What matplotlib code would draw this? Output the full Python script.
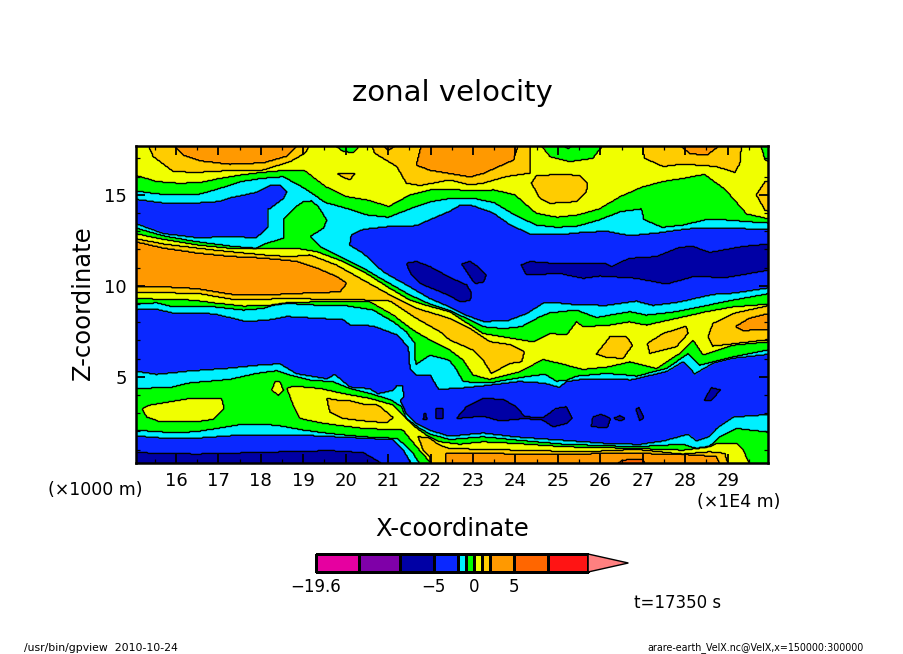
import numpy as np
import matplotlib
matplotlib.use("Agg")
import matplotlib.pyplot as plt
from matplotlib.colors import ListedColormap, BoundaryNorm
from matplotlib.path import Path

W, H = 904, 654

# --- colour classes -------------------------------------------------------
levels = [-19.6, -14.2, -9.2, -5, -2, -1, 0, 1, 2, 5, 9.2, 14.2]
top_level = 19.2
colors = ["#E600A0", "#7F00A8", "#0000A5", "#0A28FF", "#00F0FF", "#00FF00",
          "#F0FF00", "#FFCC00", "#FF9900", "#FF6600", "#FF1414"]
arrow_color = "#FF8080"
NAVY, BLUE, CYAN, GREEN, YELLOW, GOLD, ORANGE, DKORANGE = -7, -3.5, -1.5, -0.5, 0.5, 1.5, 3.5, 7

# --- contour outlines (x: 1E4 m, z: 1000 m) --------------------------------
col_x = [15 + 0.5 * i for i in range(31)]
upper_yellow_green_z = [16.12, 15.75, 15.66, 15.69, 15.93, 16.12, 16.26, 16.36, 16.36, 15.47, 14.92,
                        14.73, 14.37, 15.01, 15.29, 15.32, 15.23, 15.29, 15.01, 14.0, 13.78, 13.91,
                        14.24, 14.92, 15.43, 15.75, 15.93, 16.15, 15.29, 13.96, 13.67]
upper_green_cyan_x = col_x[:25] + [27.06] + col_x[25:]
upper_green_cyan_z = [15.25, 15.07, 15.01, 15.05, 15.38, 15.75, 15.93, 16.02, 15.38, 14.59, 14.27,
                      13.9, 13.78, 14.24, 14.64, 14.83, 14.83, 14.59, 13.9, 13.35, 13.22, 13.3,
                      13.63, 14.09, 14.24, 13.65, 13.22, 13.35, 13.63, 13.63, 13.54, 13.45]

dome1_gold_x = [15.29, 15.41, 15.89, 16.44, 17.23, 18.02, 18.66, 19.01, 19.13]
dome1_gold_z = [17.68, 17.13, 16.3, 16.26, 16.36, 16.39, 16.85, 17.31, 17.68]
dome1_orange_x = [15.89, 16.12, 16.52, 17.23, 18.02, 18.58, 18.85]
dome1_orange_z = [17.68, 17.22, 16.91, 16.72, 16.8, 17.17, 17.68]
dome2_green_x = [19.72, 19.92, 20.16, 20.32]
dome2_green_z = [17.68, 17.41, 17.35, 17.68]
spot_gold_x = [19.76, 20.2, 20.08, 19.92]
spot_gold_z = [16.21, 16.21, 15.84, 15.99]
dome3_gold_x = [20.59, 20.67, 21.19, 21.42, 21.74, 22.45, 22.93, 23.24, 23.8, 24.35, 24.35]
dome3_gold_z = [17.68, 17.31, 16.58, 15.66, 15.53, 15.84, 15.56, 15.66, 16.03, 16.21, 17.68]
dome3_orange_x = [21.78, 21.66, 21.98, 22.45, 22.93, 23.24, 23.96, 24.07]
dome3_orange_z = [17.68, 16.67, 16.39, 16.21, 16.02, 16.21, 16.95, 17.68]
dome3b_orange_x = [20.87, 20.99, 21.19]
dome3b_orange_z = [17.68, 17.5, 17.68]
lens_gold_x = [24.39, 24.51, 25.14, 25.54, 25.71, 25.7, 25.46, 24.83, 24.59]
lens_gold_z = [15.66, 16.08, 16.15, 16.08, 15.66, 15.2, 14.64, 14.55, 14.83]
dome4_green_x = [24.61, 24.83, 25.3, 25.85, 26.09]
dome4_green_z = [17.68, 17.13, 16.85, 17.04, 17.68]
dome4_cyan_x = [25.14, 25.26, 25.38]
dome4_cyan_z = [17.68, 17.55, 17.68]
dome5_gold_x = [27.03, 27.07, 27.52, 27.99, 28.78, 29.22, 29.34, 29.38]
dome5_gold_z = [17.68, 17.04, 16.58, 16.72, 16.58, 16.26, 16.76, 17.68]
dome5_orange_x = [27.91, 28.15, 28.55, 28.87]
dome5_orange_z = [17.68, 17.31, 17.22, 17.68]
corner_green_x = [29.83, 29.94, 30, 30]
corner_green_z = [17.68, 16.95, 16.8, 17.68]
edge_gold_x = [29.94, 29.73, 29.94]
edge_gold_z = [15.75, 15.01, 14.15]

left_blue_x = [15, 15.65, 16.44, 16.99, 17.23, 17.86, 18.18, 18.42, 18.58, 18.5, 18.18, 18.13, 18.13,
               17.86, 17.23, 16.44, 15.65, 15]
left_blue_z = [14.77, 14.55, 14.55, 14.64, 14.83, 15.14, 15.51, 15.53, 15.2, 14.83, 14.27, 14.27, 13.22,
               12.67, 12.71, 12.67, 12.89, 13.48]
right_blue_x = [20.08, 20.12, 20.4, 21.03, 21.66, 21.98, 22.45, 22.69, 23.0, 23.48, 23.88, 24.35, 25.06,
                25.62, 26.17, 26.72, 27.36, 27.83, 28.31, 30,
                30, 29.18, 28.7, 28.23, 27.91, 27.28, 26.88, 26.17, 25.46, 25.06, 24.67, 24.27, 23.8,
                23.24, 22.85, 22.45, 21.98, 21.5, 20.87, 20.4]
right_blue_z = [12.25, 12.8, 13.1, 13.26, 13.3, 13.63, 14.09, 14.42, 14.4, 14.0, 13.35, 12.84, 12.8,
                12.93, 12.99, 12.75, 12.89, 13.04, 13.17, 13.11,
                9.9, 9.6, 9.53, 9.29, 9.11, 8.92, 9.16, 8.92, 8.96, 9.05, 9.05, 8.46, 8.06,
                8.04, 8.37, 8.83, 9.3, 9.95, 10.78, 11.79]
green_tongue_x = [18.51, 18.52, 18.81, 18.97, 19.17, 19.33, 19.53, 19.45, 19.13, 19.37, 19.37, 18.5]
green_tongue_z = [12.62, 13.72, 14.37, 14.64, 14.68, 14.37, 13.63, 13.17, 12.71, 12.16, 11.9, 11.9]
navy1_x = [21.42, 21.66, 21.98, 22.45, 22.85, 22.97, 22.93, 22.69, 22.45, 21.74, 21.54]
navy1_z = [11.24, 11.33, 11.05, 10.45, 10.04, 9.58, 9.17, 9.12, 9.45, 10.13, 10.59]
navy2_x = [22.73, 22.93, 23.12, 23.32, 23.24, 23.05, 22.93]
navy2_z = [11.2, 11.33, 11.05, 10.59, 10.17, 10.13, 10.5]
navy3_x = [24.15, 24.35, 25.06, 26.17, 26.29, 26.72, 27.36, 27.91, 28.23, 28.62, 29.41, 30,
           30, 29.02, 28.23, 27.6, 26.88, 26.01, 25.62, 25.06, 24.27]
navy3_z = [11.14, 11.33, 11.2, 11.2, 11.05, 11.51, 11.6, 12.12, 12.16, 11.83, 12.16, 12.3,
           10.87, 10.46, 10.5, 10.09, 10.41, 10.54, 10.41, 10.68, 10.59]

jet_cyan_green_x = [15, 15.65, 16.44, 17.23, 17.86, 18.1, 18.51, 19.13, 19.37, 19.76, 20.4, 20.87, 21.5,
                    21.98, 22.45, 22.85, 23.24, 23.72, 24.15, 24.59, 24.83, 25.46, 25.93, 26.72, 27.12,
                    27.83, 28.39, 29.18, 29.97]
jet_cyan_green_z = [13.22, 12.75, 12.43, 12.19, 12.06, 12.34, 12.62, 12.3, 12.16, 11.7, 10.96, 10.32, 9.49,
                    8.98, 8.62, 8.19, 7.73, 7.63, 7.73, 8.28, 8.5, 8.65, 8.24, 8.56, 8.37,
                    8.56, 8.83, 9.2, 9.57]
jet_green_cyan_x = [15, 15.49, 15.89, 16.84, 17.55, 18.02, 18.26, 18.58, 19.29, 19.92, 20.63, 21.11, 21.42,
                    21.62, 21.64, 21.74, 21.98, 22.29, 22.45, 22.6, 22.77, 23.4, 24.15, 24.71, 24.98,
                    25.22, 25.46, 26.17, 26.65, 26.88, 27.6, 28.11, 28.39, 29.18, 29.97]
jet_green_cyan_z = [8.98, 9.05, 8.83, 8.83, 8.65, 8.74, 8.92, 9.02, 8.92, 8.92, 8.65, 8.0, 7.45,
                    6.81, 5.61, 5.79, 6.16, 5.98, 5.85, 5.4, 4.69, 4.63, 4.93, 5.11, 4.72,
                    4.78, 5.0, 5.15, 5.06, 5.0, 5.42, 6.25, 5.61, 6.07, 6.47]
jet_green_yellow_x = [15, 15.65, 16.44, 17.23, 18.81, 19.29, 19.92, 20.4, 21.03, 21.5, 21.98, 22.45, 23.24,
                      23.8, 24.43, 24.83, 25.22, 25.46, 25.62, 26.25, 26.72, 27.12, 28.0, 28.54, 29.18,
                      29.97]
jet_green_yellow_z = [12.89, 12.56, 12.25, 12.06, 12.06, 11.88, 11.33, 10.78, 9.85, 9.21, 8.85, 8.56, 7.36,
                      7.14, 6.9, 7.36, 7.27, 8.0, 7.73, 7.82, 8.0, 7.82, 8.28, 8.56, 8.83,
                      8.98]
jet_yellow_green_x = [15, 16.36, 16.84, 17.55, 18.18, 18.58, 19.29, 20.55, 21.11, 21.58, 21.98, 22.45, 22.77,
                      23.0, 23.4, 24.11, 24.67, 25.06, 25.62, 26.25, 26.72, 27.36, 27.91, 28.23, 28.47,
                      29.18, 29.97]
jet_yellow_green_z = [9.29, 9.2, 9.05, 8.87, 8.92, 9.05, 9.11, 9.11, 8.37, 7.54, 7.0, 6.44, 5.89,
                      5.06, 4.82, 5.24, 5.92, 5.7, 5.37, 5.52, 5.79, 5.42, 6.25, 7.0, 6.16,
                      6.71, 6.9]
jet_gold_x = [15, 15.65, 16.84, 18.02, 18.66, 19.13, 19.76, 20.4, 21.03, 21.66, 22.45, 22.93, 23.4, 23.88,
              24.23, 24.15, 23.88, 23.44, 23.24, 23.0, 22.45, 22.22, 21.66, 21.03, 20.4, 19.6, 18.81,
              17.39, 16.44, 15]
jet_gold_z = [12.62, 12.3, 11.97, 11.7, 11.6, 11.7, 11.14, 10.3, 9.49, 8.75, 8.19, 7.63, 6.9, 6.75,
              6.35, 5.79, 5.7, 5.15, 5.89, 6.44, 7.0, 7.45, 8.19, 9.15, 9.21, 9.21, 9.3,
              9.21, 9.58, 9.62]
jet_orange_x = [15, 15.65, 16.44, 17.23, 18.02, 18.81, 19.29, 19.76, 20, 19.84, 18.81, 18.02, 17.39, 16.44,
                15.65, 15]
jet_orange_z = [12.43, 12.06, 11.79, 11.6, 11.51, 11.33, 10.96, 10.5, 10.13, 9.67, 9.58, 9.49, 9.49, 9.85,
                9.95, 9.95]
east_gold_x = [28.58, 28.7, 29.18, 30, 30, 29.26, 28.7]
east_gold_z = [7.17, 7.91, 8.46, 8.92, 7.03, 6.81, 6.66]
east_orange_x = [29.24, 29.57, 30, 30, 29.41]
east_orange_z = [7.73, 8.19, 8.46, 7.58, 7.54]
lens2_gold_x = [25.93, 26.25, 26.65, 26.79, 26.57, 26.17]
lens2_gold_z = [6.22, 7.17, 7.17, 6.71, 5.98, 6.03]
lens3_gold_x = [27.14, 27.52, 28.07, 28.11, 27.83, 27.2]
lens3_gold_z = [6.81, 7.36, 7.76, 7.36, 6.62, 6.25]

main_blue_x = [15, 15.49, 15.89, 16.84, 17.63, 18.18, 18.58, 19.92, 20.08, 20.63, 21.19, 21.46, 21.5, 21.66,
               21.98, 22.18, 22.69, 23.24, 24.11, 24.67, 25.06, 25.22, 25.62, 26.17, 26.76, 27.6, 28.0,
               28.27, 28.7, 29.18, 29.97, 30,
               30, 29.18, 28.78, 28.62, 28.31, 28.11, 27.52, 26.96, 26.25, 25.14, 24.03, 23.24, 22.45,
               21.98, 21.66, 21.42, 21.28, 21.36, 21.34, 21.19, 21.11, 20.75, 20.55, 20.08, 19.72, 19.53,
               18.81, 18.42, 17.86, 17.23, 16.28, 15.49, 15]
main_blue_z = [8.65, 8.68, 8.46, 8.43, 8.0, 8.1, 8.28, 8.1, 7.82, 7.76, 7.27, 6.62, 5.42, 5.06,
               5.06, 4.26, 4.32, 4.45, 4.69, 4.6, 4.37, 4.69, 4.82, 4.84, 4.78, 5.24, 5.79,
               5.11, 5.7, 5.98, 6.2, 6.2,
               2.9, 2.75, 2.11, 1.69, 1.43, 1.8, 1.43, 1.24, 1.28, 1.47, 1.65, 1.87, 1.69,
               2.02, 2.39, 2.94, 3.68, 3.86, 4.5, 4.5, 4.23, 4.04, 4.32, 4.41, 5.11, 4.87,
               5.15, 5.7, 5.61, 5.46, 5.3, 5.11, 5.3]
navy4_x = [22.61, 22.85, 23.24, 23.72, 24.03, 24.23, 24.67, 24.98, 25.22, 25.36, 25.22, 24.91, 24.67, 24.23,
           23.64, 23.24]
navy4_z = [2.66, 3.31, 3.77, 3.71, 3.31, 2.75, 2.72, 3.21, 3.31, 2.66, 2.39, 2.2, 2.57, 2.66,
           2.53, 2.79]
navy5_x = [25.81, 25.85, 26.05, 26.27, 26.19]
navy5_z = [2.2, 2.75, 2.88, 2.66, 2.17]
navy6_x = [26.33, 26.49, 26.63, 26.51]
navy6_z = [2.66, 2.81, 2.66, 2.53]
navy7_x = [26.87, 26.95, 27.06, 26.96]
navy7_z = [3.21, 3.25, 2.66, 2.57]
navy8_x = [28.5, 28.66, 28.88, 28.66]
navy8_z = [3.68, 4.36, 4.23, 3.68]
navy9_x = [21.82, 21.86, 21.91]
navy9_z = [2.61, 3.03, 2.61]
navy10_x = [22.12, 22.28, 22.28, 22.12]
navy10_z = [3.21, 3.21, 2.64, 2.64]

low_green_upper_x = [15, 15.81, 16.28, 17.23, 17.86, 18.34, 18.66, 19.13, 19.68, 20.08, 20.55, 21.03, 21.31,
                     21.42, 21.74, 21.98, 22.45, 23.24, 24.03, 25.14, 26.88, 27.99, 28.31, 28.62, 28.86,
                     29.26, 30]
low_green_upper_z = [4.32, 4.37, 4.63, 4.82, 5.15, 5.3, 5.06, 4.78, 4.69, 4.32, 4.04, 3.71, 3.31,
                     2.66, 2.11, 1.8, 1.5, 1.65, 1.47, 1.24, 1.1, 1.24, 1.0, 1.13, 1.65,
                     2.11, 1.89]
low_green_lower_x = [21.8, 21.74, 21.58, 21.34, 21.19, 20.4, 19.6, 18.97, 18.34, 17.55, 16.44, 15.89, 15]
low_green_lower_z = [0.2, 0.23, 0.73, 1.28, 1.56, 1.65, 1.83, 2.02, 2.29, 2.35, 1.93, 1.87, 2.02]
low_yellow_x = [18.58, 18.73, 19.37, 19.92, 20.55, 21.11, 21.34, 21.62, 21.9, 22.22, 22.69, 23.24, 24.03, 25.14,
                26.88, 27.99, 28.62, 28.78, 29.26, 29.42, 29.57, 29.6, 22.05, 22.02, 21.66, 21.34, 20.4,
                19.45, 18.89, 18.73]
low_yellow_z = [4.32, 4.45, 4.32, 4.04, 3.77, 3.4, 2.85, 2.2, 1.74, 1.37, 1.24, 1.37, 1.28, 1.1,
                1.0, 0.91, 1.1, 1.28, 1.28, 0.91, 0.23, 0.2, 0.2, 0.23, 1.1, 2.02, 2.11,
                2.39, 2.66, 3.4]
west_yellow1_x = [15.14, 15.33, 16.28, 17.03, 17.09, 16.84, 16.44, 15.57, 15.25]
west_yellow1_z = [3.21, 3.4, 3.77, 3.77, 3.21, 2.61, 2.48, 2.48, 2.75]
west_yellow2_x = [18.22, 18.3, 18.42, 18.5, 18.38]
west_yellow2_z = [4.23, 4.69, 4.69, 4.23, 3.95]
low_gold1_x = [19.53, 19.76, 20, 20.4, 20.75, 21.11, 20.95, 20.4, 19.92, 19.6]
low_gold1_z = [3.77, 3.68, 3.68, 3.45, 3.4, 2.7, 2.42, 2.53, 2.66, 3.03]
low_gold2_x = [21.7, 21.95, 22.2, 22.45, 24.03, 25.62, 26.88, 27.99, 28.62, 28.98, 29.06, 29.1, 22.0, 21.98, 21.82]
low_gold2_z = [1.65, 1.6, 1.2, 1.0, 0.91, 0.82, 0.95, 0.69, 0.82, 0.73, 0.23, 0.2, 0.2, 0.54, 0.91]
low_orange_x = [22.37, 22.37, 22.45, 24.03, 25.62, 26.72, 28.15, 28.78, 28.86, 28.9, 22.37]
low_orange_z = [0.2, 0.73, 0.73, 0.69, 0.69, 0.73, 0.64, 0.54, 0.23, 0.2, 0.2]
low_dkorange_x = [26.41, 26.41, 26.57, 27.04, 27.08, 27.08]
low_dkorange_z = [0.2, 0.23, 0.36, 0.4, 0.23, 0.2]
floor_blue_x = [15, 15.65, 16.44, 17.55, 18.81, 19.6, 20.4, 21.11, 21.34, 21.54, 21.6, 15]
floor_blue_z = [1.69, 1.56, 1.56, 1.74, 1.74, 1.65, 1.56, 1.47, 0.91, 0.23, 0.2, 0.2]
floor_navy_x = [15, 16.44, 19.6, 20.4, 20.85, 20.9, 15]
floor_navy_z = [0.77, 0.69, 0.88, 0.77, 0.23, 0.2, 0.2]

paint = [
    (GOLD, dome1_gold_x, dome1_gold_z), (ORANGE, dome1_orange_x, dome1_orange_z),
    (GREEN, dome2_green_x, dome2_green_z), (GOLD, spot_gold_x, spot_gold_z),
    (GOLD, dome3_gold_x, dome3_gold_z), (ORANGE, dome3_orange_x, dome3_orange_z),
    (ORANGE, dome3b_orange_x, dome3b_orange_z), (GOLD, lens_gold_x, lens_gold_z),
    (GREEN, dome4_green_x, dome4_green_z), (CYAN, dome4_cyan_x, dome4_cyan_z),
    (GOLD, dome5_gold_x, dome5_gold_z), (ORANGE, dome5_orange_x, dome5_orange_z),
    (GREEN, corner_green_x, corner_green_z),
    (GOLD, edge_gold_x + [30, 30], edge_gold_z + [14.1, 15.8]),
    (GREEN, col_x + [30, 15], upper_yellow_green_z + [0.2, 0.2]),
    (CYAN, upper_green_cyan_x + [30, 15], upper_green_cyan_z + [0.2, 0.2]),
    (BLUE, left_blue_x, left_blue_z), (BLUE, right_blue_x, right_blue_z),
    (NAVY, navy1_x, navy1_z), (NAVY, navy2_x, navy2_z), (NAVY, navy3_x, navy3_z),
    (GREEN, green_tongue_x, green_tongue_z),
    (GREEN, jet_cyan_green_x + jet_green_cyan_x[::-1], jet_cyan_green_z + jet_green_cyan_z[::-1]),
    (YELLOW, jet_green_yellow_x + jet_yellow_green_x[::-1], jet_green_yellow_z + jet_yellow_green_z[::-1]),
    (GOLD, jet_gold_x, jet_gold_z), (ORANGE, jet_orange_x, jet_orange_z),
    (GOLD, east_gold_x, east_gold_z), (ORANGE, east_orange_x, east_orange_z),
    (GOLD, lens2_gold_x, lens2_gold_z), (GOLD, lens3_gold_x, lens3_gold_z),
    (BLUE, main_blue_x, main_blue_z),
    (NAVY, navy4_x, navy4_z), (NAVY, navy5_x, navy5_z), (NAVY, navy6_x, navy6_z),
    (NAVY, navy7_x, navy7_z), (NAVY, navy8_x, navy8_z), (NAVY, navy9_x, navy9_z),
    (NAVY, navy10_x, navy10_z),
    (GREEN, low_green_upper_x + [30] + low_green_lower_x, low_green_upper_z + [0.2] + low_green_lower_z),
    (YELLOW, west_yellow1_x, west_yellow1_z), (YELLOW, west_yellow2_x, west_yellow2_z),
    (YELLOW, low_yellow_x, low_yellow_z), (GOLD, low_gold1_x, low_gold1_z),
    (GOLD, low_gold2_x, low_gold2_z), (ORANGE, low_orange_x, low_orange_z),
    (DKORANGE, low_dkorange_x, low_dkorange_z),
    (BLUE, floor_blue_x, floor_blue_z), (NAVY, floor_navy_x, floor_navy_z),
]

XMIN, XMAX, ZMIN, ZMAX = 15.06, 29.95, 0.26, 17.68


def calibrated(xs, zs):
    """Readings to axis units; points read on the frame land just past it."""
    xs, zs = np.asarray(xs, float), np.asarray(zs, float)
    tx = 15.06 + (xs - 15) * 0.9922
    tz = 0.26 + (zs - 0.2) * 0.9945
    tx[xs <= 15.0] = XMIN - 0.05
    tx[xs >= 29.95] = XMAX + 0.05
    tz[zs >= 17.6] = ZMAX + 0.05
    tz[zs <= 0.23] = ZMIN - 0.05
    return np.column_stack([tx, tz])


gx = np.linspace(XMIN, XMAX, 632)
gz = np.linspace(ZMIN, ZMAX, 318)
GX, GZ = np.meshgrid(gx, gz)
pts = np.column_stack([GX.ravel(), GZ.ravel()])
field = np.full(GX.shape, YELLOW, float)
for value, xs, zs in paint:
    mask = Path(calibrated(xs, zs)).contains_points(pts).reshape(GX.shape)
    field[mask] = value

fig = plt.figure(figsize=(W / 100, H / 100), dpi=100, facecolor="white")
plt.rcParams["font.family"] = "DejaVu Sans"


def axes_px(l, t, r, b):
    return fig.add_axes([l / W, 1 - b / H, (r - l) / W, (b - t) / H])


def label(px, py, s, size, **kw):
    kw.setdefault("ha", "center")
    kw.setdefault("va", "center")
    fig.text(px / W, 1 - py / H, s, fontsize=size, color="black", **kw)


ax = axes_px(136, 146, 768, 463)
cmap = ListedColormap(colors + [arrow_color])
edges = levels + [top_level + 0.4]
norm = BoundaryNorm(edges, cmap.N)
ax.contourf(GX, GZ, field, levels=edges, cmap=cmap, norm=norm, antialiased=False)
ax.contour(GX, GZ, field, levels=[-5, -2, -1, 0, 1, 2, 5], colors="black",
           linewidths=1.0, linestyles="solid")
ax.set_xlim(XMIN, XMAX)
ax.set_ylim(ZMIN, ZMAX)

x_ticks = list(range(16, 30))
x_minor = [15.5 + i for i in range(15)]
z_ticks = [5, 10, 15]
z_minor = [z for z in range(1, 18) if z % 5]
ax.set_xticks(x_ticks, [str(t) for t in x_ticks])
ax.set_xticks(x_minor, minor=True)
ax.set_yticks(z_ticks, [str(t) for t in z_ticks])
ax.set_yticks(z_minor, minor=True)
ax.tick_params(which="major", direction="in", length=6.5, width=1.3, top=True, right=True,
               labelsize=13, pad=6.5)
ax.tick_params(which="minor", direction="in", length=3.2, width=0.9, top=True, right=True)
for s in ax.spines.values():
    s.set_linewidth(1.8)

label(452, 93, "zonal velocity", 21)
label(452, 529, "X-coordinate", 17.5)
label(83, 303, "Z-coordinate", 17.5, rotation=90)
label(95, 490, "(×1000 m)", 12.5)
label(739, 502, "(×1E4 m)", 12.5)
label(678, 603, "t=17350 s", 12)
label(24, 648, "/usr/bin/gpview  2010-10-24", 7.8, ha="left")
label(864, 648, "arare-earth_VelX.nc@VelX,x=150000:300000", 6.85, ha="right")

# colour bar
cb = axes_px(316, 554, 316 + (top_level + 19.6) * 8.05, 572)
cb_mid = [0.5 * (a + b) for a, b in zip(levels[:-1], levels[1:])]
cb.pcolormesh(levels, [0, 1], [cb_mid], cmap=cmap, norm=norm, edgecolors="black", linewidth=0.9,
              clip_on=False)
cb.fill([levels[-1], top_level, levels[-1]], [0, 0.5, 1], facecolor=arrow_color, edgecolor="black",
        linewidth=1.0, clip_on=False)
cb.set_xlim(levels[0], top_level)
cb.set_ylim(0, 1)
cb.set_yticks([])
cb_ticks = [-19.6, -5, 0, 5]
cb_labels = ["−19.6", "−5", "0", "5"]
cb.set_xticks(cb_ticks, cb_labels)
cb.tick_params(length=0, labelsize=12, pad=4.5)
for s in cb.spines.values():
    s.set_visible(False)

fig.savefig("out.png", dpi=100)
